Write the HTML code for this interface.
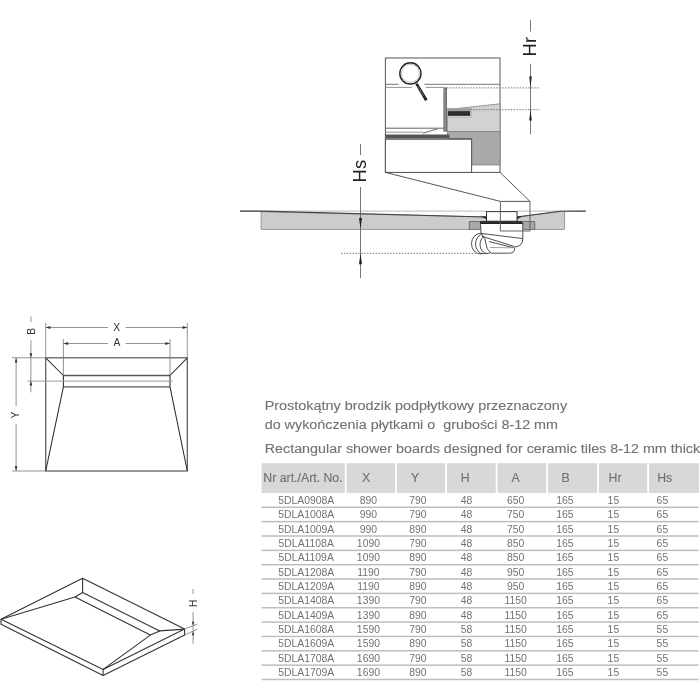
<!DOCTYPE html>
<html><head><meta charset="utf-8"><style>
html,body{margin:0;padding:0;background:#fff;width:700px;height:700px;overflow:hidden}
svg{display:block;will-change:transform;font-family:"Liberation Sans",sans-serif}
</style></head><body>
<svg width="700" height="700" viewBox="0 0 700 700">
<polygon points="261.1,211.7 486.5,217 486.5,221.6 469.3,221.6 469.3,229.4 261.1,229.4" fill="#cccccc" stroke="#888" stroke-width="0.8"/>
<polygon points="517,217 560,211.5 564.6,211.5 564.6,229.4 534.7,229.4 534.7,221.6 517,221.6" fill="#cccccc" stroke="#888" stroke-width="0.8"/>
<line x1="240" y1="211.1" x2="486.5" y2="211.1" stroke="#bbb" stroke-width="1"/>
<line x1="517" y1="211.1" x2="585.7" y2="211.1" stroke="#bbb" stroke-width="1"/>
<polyline points="240,211.1 261,211.1 486.5,217" fill="none" stroke="#444" stroke-width="1.1"/>
<polyline points="517,217 560,211.3 585.7,211.1" fill="none" stroke="#444" stroke-width="1.1"/>
<rect x="469.3" y="221.6" width="65.4" height="8" fill="#a8a8a8" stroke="#666" stroke-width="0.8"/>
<polygon points="480.5,216.6 486.6,216.4 486.6,219.2" fill="#222"/>
<polygon points="516.4,216.4 522.5,216.6 516.4,219.2" fill="#222"/>
<rect x="486.5" y="211.6" width="30.5" height="9.6" fill="#fff" stroke="#333" stroke-width="1"/>
<rect x="480" y="221" width="42" height="2.4" fill="#333"/>
<g fill="#fff" stroke="#3a3a3a" stroke-width="0.9">
<ellipse cx="480.5" cy="243.7" rx="9" ry="10.3"/>
<ellipse cx="483.5" cy="244" rx="8" ry="9.8"/>
<ellipse cx="487" cy="244.5" rx="7" ry="9"/>
<path d="M480.5,223.3 H522.8 V238.6 Q522.8,246.5 514.3,247.1 Q515.5,253.2 509.5,253.2 H491 Q486,249 486,244 Q486,238 481,233.4 Z"/>
<path d="M481,233.4 L522.8,238.6" fill="none"/>
<path d="M482,236.3 L514.3,246.5" fill="none"/>
<path d="M489,241.5 L513,247.6" fill="none"/>
<path d="M490,247.5 L511,247.8" fill="none" stroke="#999"/>
</g>
<line x1="480.5" y1="223.3" x2="522.8" y2="223.3" stroke="#222" stroke-width="1.2"/>
<rect x="385.4" y="58" width="114.6" height="114.4" fill="#fff" stroke="#555" stroke-width="1"/>
<polygon points="447.4,109.5 500,103.8 500,131.6 447.4,131.6" fill="#d2d2d2" stroke="#777" stroke-width="0.7"/>
<polygon points="447.4,131.6 500,131.6 500,165 471.6,165 471.6,139 447.4,139" fill="#a9a9a9" stroke="#777" stroke-width="0.7"/>
<rect x="447.2" y="108.4" width="23.8" height="8.6" fill="#f4f4f4" stroke="#999" stroke-width="0.7"/><rect x="447.6" y="108.6" width="22.8" height="2.4" fill="#9c9c9c"/>
<rect x="447.8" y="111.1" width="22.4" height="4.8" fill="#2e2e2e"/>
<rect x="385.4" y="139" width="86.2" height="33.4" fill="#fff" stroke="#555" stroke-width="1"/>
<line x1="385.4" y1="84.3" x2="398.6" y2="84.3" stroke="#666" stroke-width="0.9"/>
<line x1="424.3" y1="84.3" x2="500" y2="84.3" stroke="#666" stroke-width="0.9"/>
<line x1="385.4" y1="87.4" x2="412" y2="87.4" stroke="#888" stroke-width="0.9"/>
<line x1="425.7" y1="87.4" x2="444" y2="87.4" stroke="#888" stroke-width="0.9"/>
<rect x="443.4" y="87.4" width="3.6" height="44.2" fill="#707070"/>
<rect x="444.6" y="88.5" width="0.9" height="42" fill="#a0a0a0"/>
<line x1="385.4" y1="128.2" x2="444" y2="128.2" stroke="#666" stroke-width="1"/>
<line x1="385.4" y1="132.2" x2="423" y2="132.2" stroke="#888" stroke-width="0.9"/>
<line x1="422.9" y1="133.3" x2="437.7" y2="128.7" stroke="#777" stroke-width="1.2"/>
<path d="M385.4,134.4 L449,134.4 Q450.5,136.1 449,137.9 L385.4,137.9 Z" fill="#555"/>
<line x1="385.4" y1="139" x2="471.6" y2="139" stroke="#555" stroke-width="1"/>
<circle cx="410.4" cy="73.4" r="10.6" fill="#fff" stroke="#222" stroke-width="1.4"/>
<circle cx="410.4" cy="73.4" r="9" fill="none" stroke="#999" stroke-width="0.6"/>
<polygon points="415.4,84.2 417.6,83.0 427.6,99.6 425.0,101.0" fill="#1e1e1e"/><line x1="417.5" y1="85.5" x2="424" y2="96.5" stroke="#bbb" stroke-width="0.5"/>
<polyline points="385.4,172.4 500.4,201.4 530,201.4 500,172.4" fill="none" stroke="#444" stroke-width="0.9"/>
<polyline points="500.4,201.4 500.4,231 530,231 530,201.4" fill="none" stroke="#555" stroke-width="0.9"/>
<line x1="447" y1="87.9" x2="540" y2="87.9" stroke="#777" stroke-width="1" stroke-dasharray="1.5 1.4"/>
<line x1="470" y1="109.7" x2="540" y2="109.7" stroke="#777" stroke-width="1" stroke-dasharray="1.5 1.4"/>
<line x1="341" y1="253.3" x2="476" y2="253.3" stroke="#777" stroke-width="1" stroke-dasharray="1.5 1.4"/>
<g stroke="#555" stroke-width="0.8">
<line x1="530.5" y1="20" x2="530.5" y2="31.6"/><line x1="530.5" y1="63.7" x2="530.5" y2="134.3"/>
<line x1="360.5" y1="144" x2="360.5" y2="155"/><line x1="360.5" y1="187" x2="360.5" y2="278"/>
</g>
<polygon points="530.50,87.60 529.20,76.60 531.80,76.60" fill="#222"/>
<polygon points="530.50,109.50 531.80,120.50 529.20,120.50" fill="#222"/>
<polygon points="360.50,229.00 359.00,218.00 362.00,218.00" fill="#222"/>
<polygon points="360.50,253.30 362.00,264.30 359.00,264.30" fill="#222"/>
<text transform="translate(535.9,46.7) rotate(-90)" font-size="18.5" text-anchor="middle" fill="#222">Hr</text>
<text transform="translate(365.8,171.1) rotate(-90)" font-size="18.5" text-anchor="middle" fill="#222">Hs</text>
<g fill="none" stroke="#555" stroke-width="1.2">
<rect x="45.7" y="357.8" width="141.6" height="113.2"/>
<line x1="63.4" y1="375.5" x2="170" y2="375.5" stroke-width="1.3"/>
<line x1="63.4" y1="386.9" x2="170" y2="386.9" stroke-width="1.4"/>
</g>
<g fill="none" stroke="#2a2a2a" stroke-width="1.05" stroke-linejoin="round">
<polyline points="45.7,357.8 63.4,375.5 63.4,386.9 45.7,471"/>
<polyline points="187.3,357.8 170,375.5 170,386.9 187.3,471"/>
</g>
<g fill="none" stroke="#777" stroke-width="0.8">
<line x1="45.7" y1="322.9" x2="45.7" y2="357.8"/>
<line x1="187.3" y1="322.9" x2="187.3" y2="357.8"/>
<line x1="63.4" y1="339.3" x2="63.4" y2="375.3"/>
<line x1="170" y1="339.3" x2="170" y2="375.3"/>
<line x1="12" y1="357.8" x2="45.7" y2="357.8"/>
<line x1="12" y1="471" x2="45.7" y2="471"/>
<line x1="27.4" y1="381.1" x2="172.5" y2="381.1" stroke="#999" stroke-width="1"/>
<line x1="45.7" y1="327.5" x2="108" y2="327.5"/><line x1="125.5" y1="327.5" x2="187.3" y2="327.5"/>
<line x1="63.4" y1="343.5" x2="108" y2="343.5"/><line x1="125.5" y1="343.5" x2="170" y2="343.5"/>
<line x1="16.1" y1="357.8" x2="16.1" y2="406"/><line x1="16.1" y1="423.7" x2="16.1" y2="471"/>
<line x1="30.9" y1="316.4" x2="30.9" y2="322.2"/><line x1="30.9" y1="340.2" x2="30.9" y2="392.3"/>
</g>
<polygon points="45.90,327.50 50.40,326.10 50.40,328.90" fill="#333"/>
<polygon points="187.10,327.50 182.60,328.90 182.60,326.10" fill="#333"/>
<polygon points="63.60,343.50 68.10,342.10 68.10,344.90" fill="#333"/>
<polygon points="169.80,343.50 165.30,344.90 165.30,342.10" fill="#333"/>
<polygon points="16.10,358.00 17.50,362.50 14.70,362.50" fill="#333"/>
<polygon points="16.10,470.80 14.70,466.30 17.50,466.30" fill="#333"/>
<polygon points="30.90,357.80 29.50,353.30 32.30,353.30" fill="#333"/>
<polygon points="30.90,381.10 32.30,385.60 29.50,385.60" fill="#333"/>
<text x="116.6" y="330.8" font-size="10.3" text-anchor="middle" fill="#333">X</text>
<text x="117" y="346.1" font-size="10.3" text-anchor="middle" fill="#333">A</text>
<text transform="translate(19,415.1) rotate(-90)" font-size="10.3" text-anchor="middle" fill="#333">Y</text>
<text transform="translate(34.5,331.2) rotate(-90)" font-size="10.3" text-anchor="middle" fill="#333">B</text>
<g fill="none" stroke="#333" stroke-width="1.1" stroke-linejoin="round">
<polygon points="1,619.3 82.6,578.2 184.6,629.1 103.1,669.4"/>
<polyline points="1,619.3 1,624.3 103.1,675.4 184.6,635.1 184.6,629.1"/>
<line x1="103.1" y1="669.4" x2="103.1" y2="675.4"/>
<polyline points="1,619.3 75,597 150.3,635.1 103.1,669.4"/>
<polyline points="82.6,578.2 82.6,592.6 159.7,630.9 184.6,629.1"/>
<line x1="75" y1="597" x2="82.6" y2="592.6"/>
<line x1="150.3" y1="635.1" x2="159.7" y2="630.9"/>
</g>
<g fill="none" stroke="#777" stroke-width="0.8">
<line x1="184.6" y1="629.1" x2="197.4" y2="624"/><line x1="184.6" y1="635.1" x2="197.4" y2="629.1"/>
<line x1="193.1" y1="588.9" x2="193.1" y2="594"/><line x1="193.1" y1="612" x2="193.1" y2="643.7"/>
</g>
<polygon points="193.10,625.80 191.90,621.80 194.30,621.80" fill="#333"/>
<polygon points="193.10,631.30 194.30,635.30 191.90,635.30" fill="#333"/>
<text transform="translate(196.6,603.5) rotate(-90)" font-size="10" text-anchor="middle" fill="#333">H</text>
<rect x="261.6" y="463.2" width="83.2" height="29.7" fill="#d8d8d8"/>
<rect x="346.6" y="463.2" width="48.5" height="29.7" fill="#d8d8d8"/>
<rect x="396.9" y="463.2" width="48.2" height="29.7" fill="#d8d8d8"/>
<rect x="446.9" y="463.2" width="48.8" height="29.7" fill="#d8d8d8"/>
<rect x="497.5" y="463.2" width="48.7" height="29.7" fill="#d8d8d8"/>
<rect x="548.0" y="463.2" width="49.0" height="29.7" fill="#d8d8d8"/>
<rect x="598.8" y="463.2" width="48.4" height="29.7" fill="#d8d8d8"/>
<rect x="649.0" y="463.2" width="50.0" height="29.7" fill="#d8d8d8"/>
<text x="303.0" y="482.0" font-size="12.3" text-anchor="middle" fill="#727272" stroke="#727272" stroke-width="0.15">Nr art./Art. No.</text>
<text x="366.2" y="482.0" font-size="12.3" text-anchor="middle" fill="#727272" stroke="#727272" stroke-width="0.15">X</text>
<text x="415.0" y="482.0" font-size="12.3" text-anchor="middle" fill="#727272" stroke="#727272" stroke-width="0.15">Y</text>
<text x="465.2" y="482.0" font-size="12.3" text-anchor="middle" fill="#727272" stroke="#727272" stroke-width="0.15">H</text>
<text x="515.6" y="482.0" font-size="12.3" text-anchor="middle" fill="#727272" stroke="#727272" stroke-width="0.15">A</text>
<text x="565.7" y="482.0" font-size="12.3" text-anchor="middle" fill="#727272" stroke="#727272" stroke-width="0.15">B</text>
<text x="615.0" y="482.0" font-size="12.3" text-anchor="middle" fill="#727272" stroke="#727272" stroke-width="0.15">Hr</text>
<text x="664.75" y="482.0" font-size="12.3" text-anchor="middle" fill="#727272" stroke="#727272" stroke-width="0.15">Hs</text>
<text transform="translate(306.2,503.80) scale(1.04,1)" font-size="10" text-anchor="middle" fill="#727272">5DLA0908A</text>
<text transform="translate(368.4,503.80) scale(1.04,1)" font-size="10" text-anchor="middle" fill="#727272">890</text>
<text transform="translate(417.9,503.80) scale(1.04,1)" font-size="10" text-anchor="middle" fill="#727272">790</text>
<text transform="translate(466.6,503.80) scale(1.04,1)" font-size="10" text-anchor="middle" fill="#727272">48</text>
<text transform="translate(515.7,503.80) scale(1.04,1)" font-size="10" text-anchor="middle" fill="#727272">650</text>
<text transform="translate(564.8,503.80) scale(1.04,1)" font-size="10" text-anchor="middle" fill="#727272">165</text>
<text transform="translate(613.4,503.80) scale(1.04,1)" font-size="10" text-anchor="middle" fill="#727272">15</text>
<text transform="translate(662.4,503.80) scale(1.04,1)" font-size="10" text-anchor="middle" fill="#727272">65</text>
<rect x="261.6" y="506.55" width="437" height="1.5" fill="#bdbdbd"/>
<text transform="translate(306.2,518.15) scale(1.04,1)" font-size="10" text-anchor="middle" fill="#727272">5DLA1008A</text>
<text transform="translate(368.4,518.15) scale(1.04,1)" font-size="10" text-anchor="middle" fill="#727272">990</text>
<text transform="translate(417.9,518.15) scale(1.04,1)" font-size="10" text-anchor="middle" fill="#727272">790</text>
<text transform="translate(466.6,518.15) scale(1.04,1)" font-size="10" text-anchor="middle" fill="#727272">48</text>
<text transform="translate(515.7,518.15) scale(1.04,1)" font-size="10" text-anchor="middle" fill="#727272">750</text>
<text transform="translate(564.8,518.15) scale(1.04,1)" font-size="10" text-anchor="middle" fill="#727272">165</text>
<text transform="translate(613.4,518.15) scale(1.04,1)" font-size="10" text-anchor="middle" fill="#727272">15</text>
<text transform="translate(662.4,518.15) scale(1.04,1)" font-size="10" text-anchor="middle" fill="#727272">65</text>
<rect x="261.6" y="520.90" width="437" height="1.5" fill="#bdbdbd"/>
<text transform="translate(306.2,532.50) scale(1.04,1)" font-size="10" text-anchor="middle" fill="#727272">5DLA1009A</text>
<text transform="translate(368.4,532.50) scale(1.04,1)" font-size="10" text-anchor="middle" fill="#727272">990</text>
<text transform="translate(417.9,532.50) scale(1.04,1)" font-size="10" text-anchor="middle" fill="#727272">890</text>
<text transform="translate(466.6,532.50) scale(1.04,1)" font-size="10" text-anchor="middle" fill="#727272">48</text>
<text transform="translate(515.7,532.50) scale(1.04,1)" font-size="10" text-anchor="middle" fill="#727272">750</text>
<text transform="translate(564.8,532.50) scale(1.04,1)" font-size="10" text-anchor="middle" fill="#727272">165</text>
<text transform="translate(613.4,532.50) scale(1.04,1)" font-size="10" text-anchor="middle" fill="#727272">15</text>
<text transform="translate(662.4,532.50) scale(1.04,1)" font-size="10" text-anchor="middle" fill="#727272">65</text>
<rect x="261.6" y="535.25" width="437" height="1.5" fill="#bdbdbd"/>
<text transform="translate(306.2,546.85) scale(1.04,1)" font-size="10" text-anchor="middle" fill="#727272">5DLA1108A</text>
<text transform="translate(368.4,546.85) scale(1.04,1)" font-size="10" text-anchor="middle" fill="#727272">1090</text>
<text transform="translate(417.9,546.85) scale(1.04,1)" font-size="10" text-anchor="middle" fill="#727272">790</text>
<text transform="translate(466.6,546.85) scale(1.04,1)" font-size="10" text-anchor="middle" fill="#727272">48</text>
<text transform="translate(515.7,546.85) scale(1.04,1)" font-size="10" text-anchor="middle" fill="#727272">850</text>
<text transform="translate(564.8,546.85) scale(1.04,1)" font-size="10" text-anchor="middle" fill="#727272">165</text>
<text transform="translate(613.4,546.85) scale(1.04,1)" font-size="10" text-anchor="middle" fill="#727272">15</text>
<text transform="translate(662.4,546.85) scale(1.04,1)" font-size="10" text-anchor="middle" fill="#727272">65</text>
<rect x="261.6" y="549.60" width="437" height="1.5" fill="#bdbdbd"/>
<text transform="translate(306.2,561.20) scale(1.04,1)" font-size="10" text-anchor="middle" fill="#727272">5DLA1109A</text>
<text transform="translate(368.4,561.20) scale(1.04,1)" font-size="10" text-anchor="middle" fill="#727272">1090</text>
<text transform="translate(417.9,561.20) scale(1.04,1)" font-size="10" text-anchor="middle" fill="#727272">890</text>
<text transform="translate(466.6,561.20) scale(1.04,1)" font-size="10" text-anchor="middle" fill="#727272">48</text>
<text transform="translate(515.7,561.20) scale(1.04,1)" font-size="10" text-anchor="middle" fill="#727272">850</text>
<text transform="translate(564.8,561.20) scale(1.04,1)" font-size="10" text-anchor="middle" fill="#727272">165</text>
<text transform="translate(613.4,561.20) scale(1.04,1)" font-size="10" text-anchor="middle" fill="#727272">15</text>
<text transform="translate(662.4,561.20) scale(1.04,1)" font-size="10" text-anchor="middle" fill="#727272">65</text>
<rect x="261.6" y="563.95" width="437" height="1.5" fill="#bdbdbd"/>
<text transform="translate(306.2,575.55) scale(1.04,1)" font-size="10" text-anchor="middle" fill="#727272">5DLA1208A</text>
<text transform="translate(368.4,575.55) scale(1.04,1)" font-size="10" text-anchor="middle" fill="#727272">1190</text>
<text transform="translate(417.9,575.55) scale(1.04,1)" font-size="10" text-anchor="middle" fill="#727272">790</text>
<text transform="translate(466.6,575.55) scale(1.04,1)" font-size="10" text-anchor="middle" fill="#727272">48</text>
<text transform="translate(515.7,575.55) scale(1.04,1)" font-size="10" text-anchor="middle" fill="#727272">950</text>
<text transform="translate(564.8,575.55) scale(1.04,1)" font-size="10" text-anchor="middle" fill="#727272">165</text>
<text transform="translate(613.4,575.55) scale(1.04,1)" font-size="10" text-anchor="middle" fill="#727272">15</text>
<text transform="translate(662.4,575.55) scale(1.04,1)" font-size="10" text-anchor="middle" fill="#727272">65</text>
<rect x="261.6" y="578.30" width="437" height="1.5" fill="#bdbdbd"/>
<text transform="translate(306.2,589.90) scale(1.04,1)" font-size="10" text-anchor="middle" fill="#727272">5DLA1209A</text>
<text transform="translate(368.4,589.90) scale(1.04,1)" font-size="10" text-anchor="middle" fill="#727272">1190</text>
<text transform="translate(417.9,589.90) scale(1.04,1)" font-size="10" text-anchor="middle" fill="#727272">890</text>
<text transform="translate(466.6,589.90) scale(1.04,1)" font-size="10" text-anchor="middle" fill="#727272">48</text>
<text transform="translate(515.7,589.90) scale(1.04,1)" font-size="10" text-anchor="middle" fill="#727272">950</text>
<text transform="translate(564.8,589.90) scale(1.04,1)" font-size="10" text-anchor="middle" fill="#727272">165</text>
<text transform="translate(613.4,589.90) scale(1.04,1)" font-size="10" text-anchor="middle" fill="#727272">15</text>
<text transform="translate(662.4,589.90) scale(1.04,1)" font-size="10" text-anchor="middle" fill="#727272">65</text>
<rect x="261.6" y="592.65" width="437" height="1.5" fill="#bdbdbd"/>
<text transform="translate(306.2,604.25) scale(1.04,1)" font-size="10" text-anchor="middle" fill="#727272">5DLA1408A</text>
<text transform="translate(368.4,604.25) scale(1.04,1)" font-size="10" text-anchor="middle" fill="#727272">1390</text>
<text transform="translate(417.9,604.25) scale(1.04,1)" font-size="10" text-anchor="middle" fill="#727272">790</text>
<text transform="translate(466.6,604.25) scale(1.04,1)" font-size="10" text-anchor="middle" fill="#727272">48</text>
<text transform="translate(515.7,604.25) scale(1.04,1)" font-size="10" text-anchor="middle" fill="#727272">1150</text>
<text transform="translate(564.8,604.25) scale(1.04,1)" font-size="10" text-anchor="middle" fill="#727272">165</text>
<text transform="translate(613.4,604.25) scale(1.04,1)" font-size="10" text-anchor="middle" fill="#727272">15</text>
<text transform="translate(662.4,604.25) scale(1.04,1)" font-size="10" text-anchor="middle" fill="#727272">65</text>
<rect x="261.6" y="607.00" width="437" height="1.5" fill="#bdbdbd"/>
<text transform="translate(306.2,618.60) scale(1.04,1)" font-size="10" text-anchor="middle" fill="#727272">5DLA1409A</text>
<text transform="translate(368.4,618.60) scale(1.04,1)" font-size="10" text-anchor="middle" fill="#727272">1390</text>
<text transform="translate(417.9,618.60) scale(1.04,1)" font-size="10" text-anchor="middle" fill="#727272">890</text>
<text transform="translate(466.6,618.60) scale(1.04,1)" font-size="10" text-anchor="middle" fill="#727272">48</text>
<text transform="translate(515.7,618.60) scale(1.04,1)" font-size="10" text-anchor="middle" fill="#727272">1150</text>
<text transform="translate(564.8,618.60) scale(1.04,1)" font-size="10" text-anchor="middle" fill="#727272">165</text>
<text transform="translate(613.4,618.60) scale(1.04,1)" font-size="10" text-anchor="middle" fill="#727272">15</text>
<text transform="translate(662.4,618.60) scale(1.04,1)" font-size="10" text-anchor="middle" fill="#727272">65</text>
<rect x="261.6" y="621.35" width="437" height="1.5" fill="#bdbdbd"/>
<text transform="translate(306.2,632.95) scale(1.04,1)" font-size="10" text-anchor="middle" fill="#727272">5DLA1608A</text>
<text transform="translate(368.4,632.95) scale(1.04,1)" font-size="10" text-anchor="middle" fill="#727272">1590</text>
<text transform="translate(417.9,632.95) scale(1.04,1)" font-size="10" text-anchor="middle" fill="#727272">790</text>
<text transform="translate(466.6,632.95) scale(1.04,1)" font-size="10" text-anchor="middle" fill="#727272">58</text>
<text transform="translate(515.7,632.95) scale(1.04,1)" font-size="10" text-anchor="middle" fill="#727272">1150</text>
<text transform="translate(564.8,632.95) scale(1.04,1)" font-size="10" text-anchor="middle" fill="#727272">165</text>
<text transform="translate(613.4,632.95) scale(1.04,1)" font-size="10" text-anchor="middle" fill="#727272">15</text>
<text transform="translate(662.4,632.95) scale(1.04,1)" font-size="10" text-anchor="middle" fill="#727272">55</text>
<rect x="261.6" y="635.70" width="437" height="1.5" fill="#bdbdbd"/>
<text transform="translate(306.2,647.30) scale(1.04,1)" font-size="10" text-anchor="middle" fill="#727272">5DLA1609A</text>
<text transform="translate(368.4,647.30) scale(1.04,1)" font-size="10" text-anchor="middle" fill="#727272">1590</text>
<text transform="translate(417.9,647.30) scale(1.04,1)" font-size="10" text-anchor="middle" fill="#727272">890</text>
<text transform="translate(466.6,647.30) scale(1.04,1)" font-size="10" text-anchor="middle" fill="#727272">58</text>
<text transform="translate(515.7,647.30) scale(1.04,1)" font-size="10" text-anchor="middle" fill="#727272">1150</text>
<text transform="translate(564.8,647.30) scale(1.04,1)" font-size="10" text-anchor="middle" fill="#727272">165</text>
<text transform="translate(613.4,647.30) scale(1.04,1)" font-size="10" text-anchor="middle" fill="#727272">15</text>
<text transform="translate(662.4,647.30) scale(1.04,1)" font-size="10" text-anchor="middle" fill="#727272">55</text>
<rect x="261.6" y="650.05" width="437" height="1.5" fill="#bdbdbd"/>
<text transform="translate(306.2,661.65) scale(1.04,1)" font-size="10" text-anchor="middle" fill="#727272">5DLA1708A</text>
<text transform="translate(368.4,661.65) scale(1.04,1)" font-size="10" text-anchor="middle" fill="#727272">1690</text>
<text transform="translate(417.9,661.65) scale(1.04,1)" font-size="10" text-anchor="middle" fill="#727272">790</text>
<text transform="translate(466.6,661.65) scale(1.04,1)" font-size="10" text-anchor="middle" fill="#727272">58</text>
<text transform="translate(515.7,661.65) scale(1.04,1)" font-size="10" text-anchor="middle" fill="#727272">1150</text>
<text transform="translate(564.8,661.65) scale(1.04,1)" font-size="10" text-anchor="middle" fill="#727272">165</text>
<text transform="translate(613.4,661.65) scale(1.04,1)" font-size="10" text-anchor="middle" fill="#727272">15</text>
<text transform="translate(662.4,661.65) scale(1.04,1)" font-size="10" text-anchor="middle" fill="#727272">55</text>
<rect x="261.6" y="664.40" width="437" height="1.5" fill="#bdbdbd"/>
<text transform="translate(306.2,676.00) scale(1.04,1)" font-size="10" text-anchor="middle" fill="#727272">5DLA1709A</text>
<text transform="translate(368.4,676.00) scale(1.04,1)" font-size="10" text-anchor="middle" fill="#727272">1690</text>
<text transform="translate(417.9,676.00) scale(1.04,1)" font-size="10" text-anchor="middle" fill="#727272">890</text>
<text transform="translate(466.6,676.00) scale(1.04,1)" font-size="10" text-anchor="middle" fill="#727272">58</text>
<text transform="translate(515.7,676.00) scale(1.04,1)" font-size="10" text-anchor="middle" fill="#727272">1150</text>
<text transform="translate(564.8,676.00) scale(1.04,1)" font-size="10" text-anchor="middle" fill="#727272">165</text>
<text transform="translate(613.4,676.00) scale(1.04,1)" font-size="10" text-anchor="middle" fill="#727272">15</text>
<text transform="translate(662.4,676.00) scale(1.04,1)" font-size="10" text-anchor="middle" fill="#727272">55</text>
<rect x="261.6" y="678.75" width="437" height="1.5" fill="#bdbdbd"/>
<text x="264.7" y="410.4" font-size="12.5" fill="#727272" stroke="#727272" stroke-width="0.12" textLength="302.4" lengthAdjust="spacingAndGlyphs">Prostokątny brodzik podpłytkowy przeznaczony</text>
<text x="264.7" y="429.3" font-size="12.5" fill="#727272" stroke="#727272" stroke-width="0.12" textLength="293.3" lengthAdjust="spacingAndGlyphs">do wykończenia płytkami o&#160; grubości 8-12 mm</text>
<text x="264.7" y="453.3" font-size="12.5" fill="#727272" stroke="#727272" stroke-width="0.12" textLength="435.5" lengthAdjust="spacingAndGlyphs">Rectangular shower boards designed for ceramic tiles 8-12 mm thick</text>
</svg>
</body></html>
